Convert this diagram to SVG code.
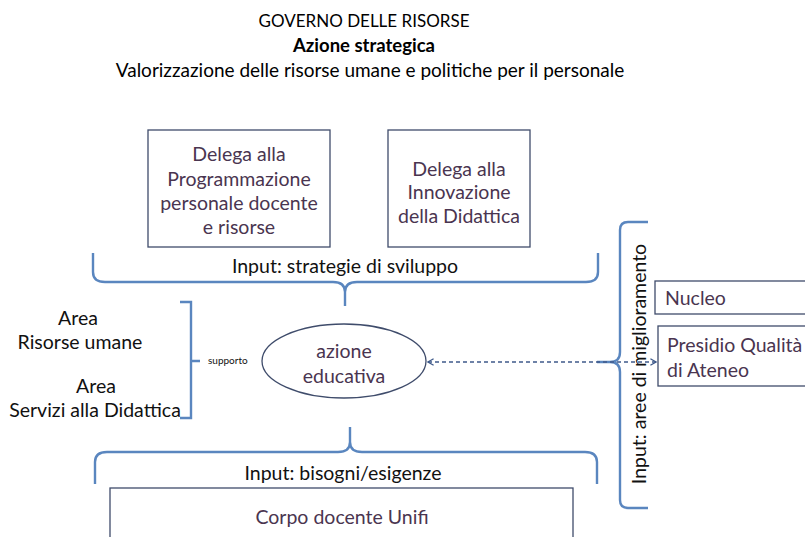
<svg xmlns="http://www.w3.org/2000/svg" width="805" height="537" viewBox="0 0 805 537">
<style>
text{font-family:Lato,"Open Sans","Liberation Sans",sans-serif;}
.t{font-size:17px;fill:#000;text-anchor:middle;}
.n{font-size:19.5px;fill:#4a3550;text-anchor:middle;}
.nl{font-size:19.5px;fill:#4a3550;}
.k{font-size:19.5px;fill:#111;text-anchor:middle;}
.box{fill:#fff;stroke:#3f4c6b;stroke-width:1.3;}
.br{fill:none;stroke:#5a86bf;stroke-width:2.4;}
</style>
<defs>
<marker id="ch" viewBox="0 0 10 10" refX="9" refY="5" markerWidth="8" markerHeight="8" orient="auto-start-reverse" markerUnits="userSpaceOnUse">
<path d="M2,1 L9,5 L2,9" fill="none" stroke="#3f5a8a" stroke-width="1.6"/>
</marker>
</defs>
<rect width="805" height="537" fill="#fff"/>
<g id="title">
<text class="t" x="364" y="27">GOVERNO DELLE RISORSE</text>
<text class="t" x="364" y="52" style="font-weight:bold;font-size:18.5px">Azione strategica</text>
<text class="t" x="370" y="77" style="font-size:19px">Valorizzazione delle risorse umane  e politiche per il personale</text>
</g>
<g id="connectors">
<path class="br" d="M93,253 L93,272 Q93,282 105,282 L333,282 Q345,282 345,292 L345,306 M345,292 Q345,282 357,282 L586,282 Q598,282 598,272 L598,253"/>
<path class="br" d="M95,484 L95,462 Q95,452 107,452 L338,452 Q350,452 350,442 L350,427 M350,442 Q350,452 362,452 L585,452 Q597,452 597,462 L597,484"/>
<path class="br" d="M180,302 L191,302 L191,418 L180,418 M191,361 L200,361"/>
<path class="br" d="M648,222 L628,222 Q620,222 620,230 L620,352 Q620,362 610,362 L597,362 M610,362 Q620,362 620,372 L620,500 Q620,508 628,508 L648,508"/>
<line x1="428" y1="362" x2="656" y2="362" stroke="#3f5a8a" stroke-width="1.4" stroke-dasharray="4,3" marker-start="url(#ch)" marker-end="url(#ch)"/>
</g>
<g id="delega-programmazione">
<rect class="box" x="148" y="130" width="182" height="117"/>
<text class="n" x="239" y="161">Delega alla</text>
<text class="n" x="239" y="186">Programmazione</text>
<text class="n" x="239" y="210">personale docente</text>
<text class="n" x="239" y="234">e risorse</text>
</g>
<g id="delega-innovazione">
<rect class="box" x="388" y="130" width="142" height="117"/>
<text class="n" x="459" y="176">Delega alla</text>
<text class="n" x="459" y="199">Innovazione</text>
<text class="n" x="459" y="223">della Didattica</text>
</g>
<g id="input-strategie">
<text class="k" x="345" y="273">Input: strategie di sviluppo</text>
</g>
<g id="aree">
<text class="k" x="78" y="325">Area</text>
<text class="k" x="80" y="349">Risorse umane</text>
<text class="k" x="96" y="393">Area</text>
<text class="k" x="95" y="417">Servizi alla Didattica</text>
<text x="208" y="364" font-size="10" fill="#111">supporto</text>
</g>
<g id="azione-educativa">
<ellipse cx="344" cy="361" rx="82" ry="37" fill="#fff" stroke="#3f4c6b" stroke-width="1.3"/>
<text class="n" x="344" y="358">azione</text>
<text class="n" x="344" y="383">educativa</text>
</g>
<g id="input-aree">
<text class="k" transform="translate(646,364) rotate(-90)">Input: aree di miglioramento</text>
</g>
<g id="nucleo">
<rect class="box" x="655" y="281" width="160" height="33"/>
<text class="nl" x="665" y="305">Nucleo</text>
</g>
<g id="presidio">
<rect class="box" x="658" y="326" width="160" height="60"/>
<text class="nl" x="667" y="352">Presidio Qualità</text>
<text class="nl" x="667" y="377">di Ateneo</text>
</g>
<g id="input-bisogni">
<text class="k" x="343" y="480">Input: bisogni/esigenze</text>
</g>
<g id="corpo-docente">
<rect class="box" x="110" y="488" width="463" height="70"/>
<text class="n" x="342" y="524">Corpo docente Unifi</text>
</g>
</svg>
